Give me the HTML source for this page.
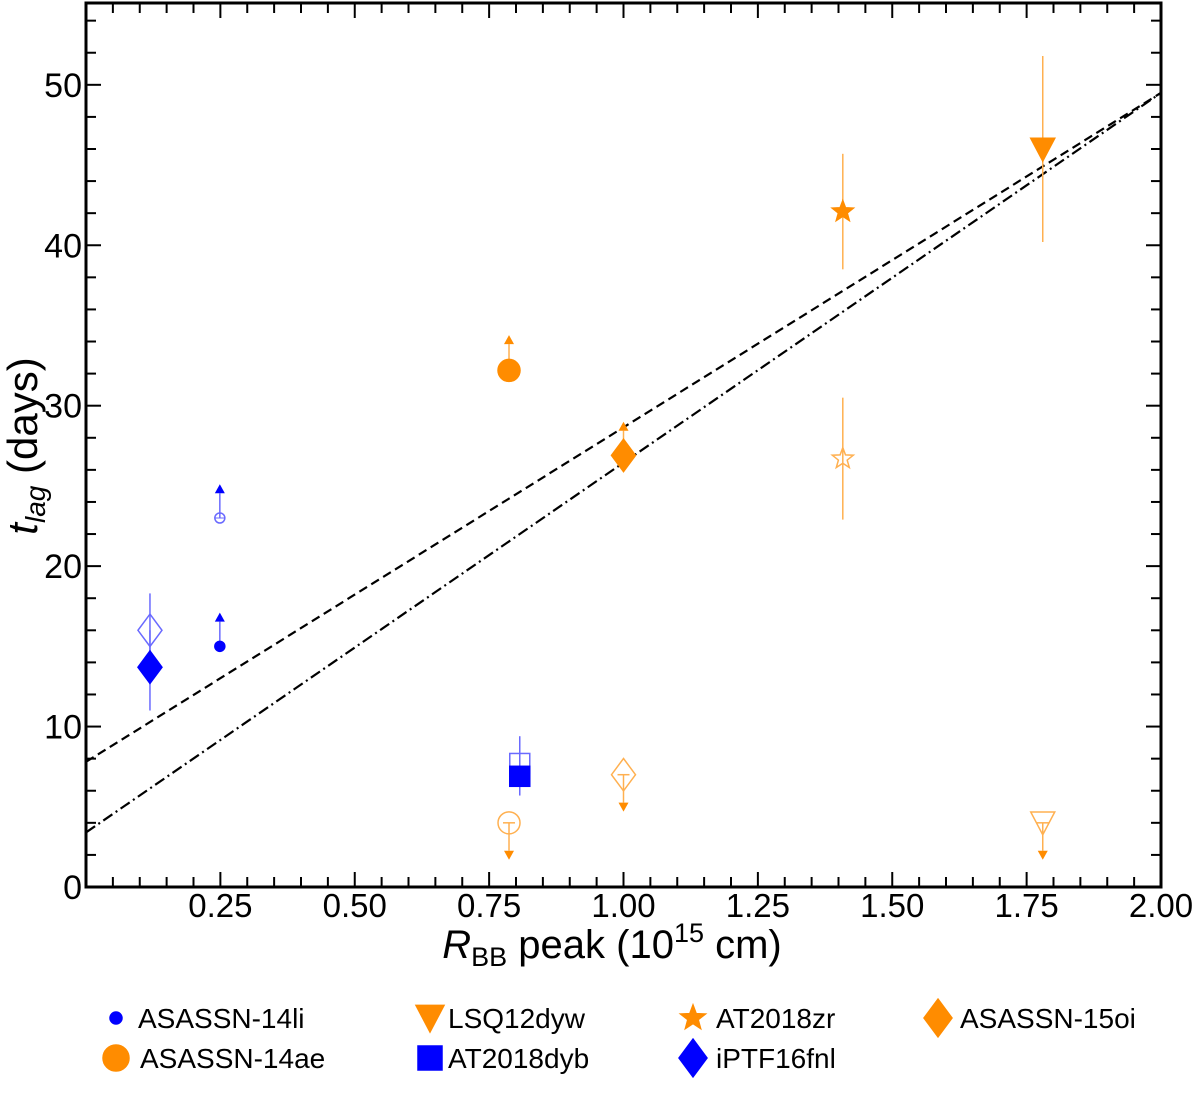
<!DOCTYPE html>
<html><head><meta charset="utf-8"><style>
body{margin:0;background:#fff;}
svg text{font-family:"Liberation Sans",sans-serif;}
</style></head><body>
<svg id="chart" width="1200" height="1093" viewBox="0 0 1200 1093">
<g id="grid"></g><g id="lines"></g><g id="marks"></g><g id="axes"></g><g id="legend"></g>
</svg>
<script>
// ---- data ----
const fitDashed = [7.8, 49.5];      // y at x=0 and x=2
const fitDashDot = [3.4, 49.5];
const names = ["ASASSN-14li","iPTF16fnl","AT2018dyb","ASASSN-14ae","ASASSN-15oi","AT2018zr","LSQ12dyw"];
const xVals = [0.249, 0.119, 0.807, 0.787, 1.0, 1.408, 1.78];
const yFilled = [15, 13.7, 6.9, 32.2, 26.9, 42.1, 46];
const yFilledLo = [15, 11, 6.9, 32.2, 26.9, 38.5, 40.2];
const yFilledHi = [17.1, 16.0, 6.9, 34.4, 29.0, 45.7, 51.8];
const filledLimit = ["up","none","none","up","up","none","none"];
const yOpen = [23, 16, 7.7, 4.0, 7.0, 26.7, 4.0];
const yOpenLo = [23, 13.7, 5.7, 1.7, 4.7, 22.9, 1.7];
const yOpenHi = [25.1, 18.3, 9.4, 4.0, 7.0, 30.5, 4.0];
const openLimit = ["up","none","none","down","down","none","down"];
const shapes = ["circleSmall","diamond","square","circle","diamond","star","tri"];
const colors = ["blue","blue","blue","darkorange","darkorange","darkorange","darkorange"];
const xTicks = [0.25,0.5,0.75,1.0,1.25,1.5,1.75,2.0];
const xTickLabels = ["0.25","0.50","0.75","1.00","1.25","1.50","1.75","2.00"];
const yTicks = [0,10,20,30,40,50];
const yTickLabels = ["0","10","20","30","40","50"];

const L=86,R=1161,T=3,B=887,XMIN=0,XMAX=2,YMIN=0,YMAX=55.1;
const sx=v=>L+(v-XMIN)/(XMAX-XMIN)*(R-L);
const sy=v=>B-(v-YMIN)/(YMAX-YMIN)*(B-T);
const NS="http://www.w3.org/2000/svg";
function mk(tag,attrs,parent){const e=document.createElementNS(NS,tag);for(const k in attrs)e.setAttribute(k,attrs[k]);parent.appendChild(e);return e;}
const gL=document.getElementById('lines'),gM=document.getElementById('marks'),gA=document.getElementById('axes'),gLeg=document.getElementById('legend');

let ln=mk('line',{x1:sx(0),y1:sy(fitDashed[0]),x2:sx(2),y2:sy(fitDashed[1]),stroke:'#000','stroke-width':2.2,'stroke-dasharray':'9,5'},gL);


ln=mk('line',{x1:sx(0),y1:sy(fitDashDot[0]),x2:sx(2),y2:sy(fitDashDot[1]),stroke:'#000','stroke-width':2.2,'stroke-dasharray':'11,4,2,4'},gL);



function shape(kind,cx,cy,s,fill,stroke,parent){
  let e;
  if(kind==='circleSmall'||kind==='circle'){e=mk('circle',{cx,cy,r:s},parent);}
  else if(kind==='diamond'){e=mk('polygon',{points:`${cx},${cy-s*1.35} ${cx+s},${cy} ${cx},${cy+s*1.35} ${cx-s},${cy}`},parent);}
  else if(kind==='square'){e=mk('rect',{x:cx-s,y:cy-s,width:2*s,height:2*s},parent);}
  else if(kind==='tri'){e=mk('polygon',{points:`${cx-s},${cy-s*0.9} ${cx+s},${cy-s*0.9} ${cx},${cy+s*1.0}`},parent);}
  else if(kind==='star'){let p=[];for(let i=0;i<10;i++){const a=-Math.PI/2+i*Math.PI/5;const r=i%2?s*0.42:s;p.push((cx+r*Math.cos(a)).toFixed(1)+','+(cy+r*Math.sin(a)).toFixed(1));}e=mk('polygon',{points:p.join(' ')},parent);}
  e.setAttribute('fill',fill);e.setAttribute('stroke',stroke);e.setAttribute('stroke-width',1.5);
  return e;
}
const sizeF={circleSmall:5,circle:11,diamond:12,square:10,tri:12,star:11};
const sizeO={circleSmall:5,circle:11,diamond:12,square:10,tri:12,star:11};
const light=c=>c==='blue'?'#6a6aff':'#ffb050';
function arrow(x,y,dir,c,parent){
  const d=dir==='up'?-1:1;
  return mk('polygon',{points:`${x-5},${y} ${x+5},${y} ${x},${y+d*9}`,fill:c},parent);
}
for(let i=0;i<names.length;i++){
  const g=mk('g',{},gM);
  
  
  const x=sx(xVals[i]),c=colors[i],lc=light(c);
  if(openLimit[i]==='none'){
    mk('line',{x1:x,x2:x,y1:sy(yOpenLo[i]),y2:sy(yOpenHi[i]),stroke:lc,'stroke-width':1.5},g);
  }else if(openLimit[i]==='down'){
    mk('line',{x1:x-6,x2:x+6,y1:sy(yOpen[i]),y2:sy(yOpen[i]),stroke:lc,'stroke-width':1.5},g);
    mk('line',{x1:x,x2:x,y1:sy(yOpen[i]),y2:sy(yOpenLo[i])-9,stroke:lc,'stroke-width':1.5},g);
    arrow(x,sy(yOpenLo[i])-9,'down',c,g);
  }else{
    mk('line',{x1:x,x2:x,y1:sy(yOpen[i]),y2:sy(yOpenHi[i])+9,stroke:lc,'stroke-width':1.5},g);
    mk('line',{x1:x-5,x2:x+5,y1:sy(yOpen[i]),y2:sy(yOpen[i]),stroke:lc,'stroke-width':1},g);
    arrow(x,sy(yOpenHi[i])+9,'up',c,g);
  }
  const o=shape(shapes[i],x,sy(yOpen[i]),sizeO[shapes[i]],'none',lc,g);
  
  
  if(filledLimit[i]==='none'){
    mk('line',{x1:x,x2:x,y1:sy(yFilledLo[i]),y2:sy(yFilledHi[i]),stroke:lc,'stroke-width':1.5},g);
  }else{
    mk('line',{x1:x,x2:x,y1:sy(yFilled[i]),y2:sy(yFilledHi[i])+9,stroke:lc,'stroke-width':1.5},g);
    arrow(x,sy(yFilledHi[i])+9,'up',c,g);
  }
  const f=shape(shapes[i],x,sy(yFilled[i]),sizeF[shapes[i]],c,c,g);
  
  
}

let fr=mk('rect',{x:L,y:T,width:R-L,height:B-T,fill:'none',stroke:'#000','stroke-width':3},gA);


for(let k=1;k<40;k++){const v=k*0.05;const x=sx(v);const major=k%5===0;const len=major?15:10;
  mk('line',{x1:x,x2:x,y1:B,y2:B-len,stroke:'#000','stroke-width':2},gA);
  mk('line',{x1:x,x2:x,y1:T,y2:T+len,stroke:'#000','stroke-width':2},gA);}
for(let k=1;k<28;k++){const v=k*2;const y=sy(v);if(y<T+2)continue;const major=v%10===0;const len=major?15:10;
  mk('line',{x1:L,x2:L+len,y1:y,y2:y,stroke:'#000','stroke-width':2},gA);
  mk('line',{x1:R,x2:R-len,y1:y,y2:y,stroke:'#000','stroke-width':2},gA);}
xTicks.forEach((v,i)=>{const t=mk('text',{x:sx(v),y:B+30,'text-anchor':'middle','font-size':33},gA);t.textContent=xTickLabels[i];
  
  });
yTicks.forEach((v,i)=>{const t=mk('text',{x:L-4,y:sy(v)+12,'text-anchor':'end','font-size':34},gA);t.textContent=yTickLabels[i];
  
  });

const legX=[116,430,693,938,116,430,693];
const legTx=[138,448,716,960,140,448,716];
const legY=[1018,1018,1018,1018,1058,1058,1058];
const legOrder=[0,6,5,4,3,2,1];
const legSize={circleSmall:6,circle:13,diamond:14,square:12,tri:14,star:13};
legOrder.forEach((idx,j)=>{
  const g=mk('g',{},gLeg);
  
  
  shape(shapes[idx],legX[j],legY[j],legSize[shapes[idx]],colors[idx],colors[idx],g);
  const t=mk('text',{x:legTx[j],y:legY[j]+10,'font-size':28},g);t.textContent=names[idx];
});
</script>
<svg style="position:absolute;left:0;top:0" width="1200" height="1093">
<text x="612" y="958" text-anchor="middle" font-size="40" font-family="Liberation Sans, sans-serif"><tspan font-style="italic">R</tspan><tspan font-size="27" dy="8">BB</tspan><tspan dy="-8"> peak (10</tspan><tspan font-size="27" dy="-16">15</tspan><tspan dy="16"> cm)</tspan></text>
<text transform="translate(37,446) rotate(-90)" text-anchor="middle" font-size="42" font-family="Liberation Sans, sans-serif"><tspan font-style="italic">t</tspan><tspan font-style="italic" font-size="28" dy="8">lag</tspan><tspan dy="-8"> (days)</tspan></text>
</svg>
</body></html>
